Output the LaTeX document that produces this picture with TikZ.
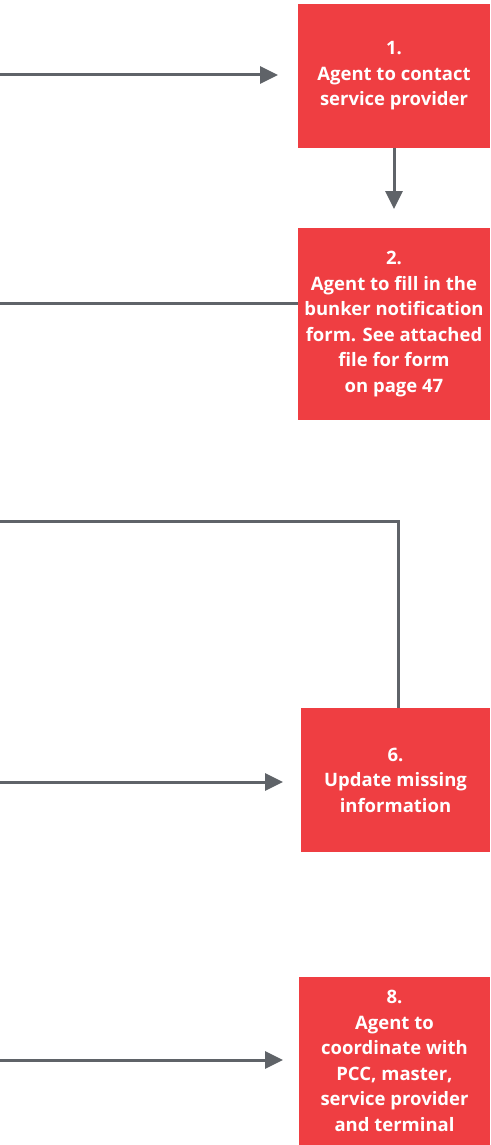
\documentclass[tikz,border=0pt]{standalone}
\usepackage{fontspec}
\setmainfont{Open Sans}
\usetikzlibrary{arrows.meta}
\definecolor{boxred}{HTML}{EF3E42}
\definecolor{linegray}{HTML}{5F6368}
\tikzset{
  stepbox/.style={fill=boxred, draw=none, text=white, align=center,
    font=\fontsize{18.5}{25.5}\selectfont\bfseries, inner sep=0pt},
  flow/.style={draw=linegray, line width=3pt},
  flowarrow/.style={flow, -{Triangle[length=18pt,width=17pt]}}
}
\begin{document}
\begin{tikzpicture}[x=1pt,y=-1pt]
  \useasboundingbox (0,0) rectangle (490,1145);
  % step boxes
  \node[stepbox, minimum width=192pt, minimum height=144pt] (s1) at (394,76)
    {1.\\Agent to contact\\service provider};
  \node[stepbox, minimum width=192pt, minimum height=192pt] (s2) at (394,324)
    {2.\\Agent to fill in the\\bunker notification\\form. See attached\\file for form\\on page 47};
  \node[stepbox, minimum width=189pt, minimum height=144pt] (s6) at (395.5,780)
    {6.\\Update missing\\information};
  \node[stepbox, minimum width=191pt, minimum height=168pt] (s8) at (394.5,1061)
    {8.\\Agent to\\coordinate with\\PCC, master,\\service provider\\and terminal};
  % loose ends at the left edge
  \coordinate (in1) at (0,75);
  \coordinate (in2) at (0,303);
  \coordinate (in6) at (0,521);
  \coordinate (bend6) at (398,521);
  \coordinate (in6b) at (0,782);
  \coordinate (in8) at (0,1060);
  % connectors
  \draw[flowarrow] (in1) -- (278,75);
  \draw[flowarrow] (s1.south -| 394,0) -- (394,209);
  \draw[flow] (in2) -- (in2 -| s2.west);
  \draw[flow] (in6) -- (bend6) -- (bend6 |- s6.north);
  \draw[flowarrow] (in6b) -- (283,782);
  \draw[flowarrow] (in8) -- (283,1060);
\end{tikzpicture}
\end{document}
